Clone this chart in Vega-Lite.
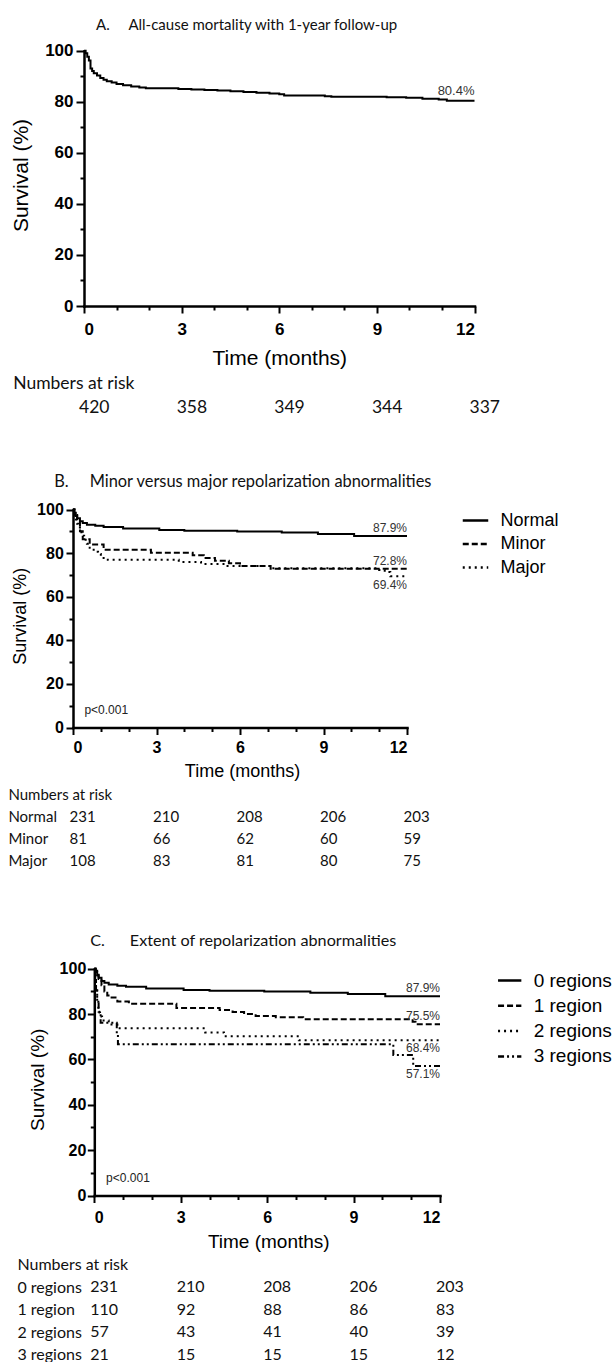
{
  "$schema": "https://vega.github.io/schema/vega-lite/v6.json",
  "padding": 0,
  "background": "white",
  "bounds": "flush",
  "spacing": 0,
  "resolve": {"scale": {"strokeDash": "independent"}, "legend": {"strokeDash": "independent"}},
  "config": {
    "view": {"stroke": null},
    "font": "Liberation Sans",
    "axis": {"grid": false, "labelColor": "#000", "tickColor": "#000", "domainColor": "#000", "titleColor": "#000", "labelFont": "Liberation Sans", "titleFont": "Liberation Sans", "titleFontWeight": "normal", "labelFontWeight": "bold", "domainCap": "square"},
    "legend": {"labelFont": "Liberation Sans", "labelColor": "#000"}
  },
  "datasets": {
    "curveA": [{"t":0,"s":100},{"t":0.05,"s":99},{"t":0.1,"s":97.6},{"t":0.15,"s":96.2},{"t":0.2,"s":93},{"t":0.25,"s":92},{"t":0.3,"s":91.2},{"t":0.4,"s":90.3},{"t":0.5,"s":89.3},{"t":0.6,"s":88.6},{"t":0.7,"s":88},{"t":0.85,"s":87.5},{"t":1,"s":87},{"t":1.2,"s":86.5},{"t":1.45,"s":86},{"t":1.7,"s":85.6},{"t":1.9,"s":85.3},{"t":2.9,"s":85},{"t":3.3,"s":84.8},{"t":3.7,"s":84.6},{"t":4.1,"s":84.4},{"t":4.5,"s":84.1},{"t":4.9,"s":83.8},{"t":5.3,"s":83.5},{"t":5.7,"s":83.2},{"t":6,"s":82.9},{"t":6.15,"s":82.5},{"t":7.4,"s":82.2},{"t":7.6,"s":82},{"t":9.3,"s":81.8},{"t":9.9,"s":81.6},{"t":10.4,"s":81.2},{"t":10.9,"s":80.9},{"t":11.15,"s":80.4},{"t":12,"s":80.4}],
    "endA": [{"t":12,"s":80.4,"label":"80.4%"}],
    "riskA": [{"row":"All","t":0,"n":420},{"row":"All","t":3,"n":358},{"row":"All","t":6,"n":349},{"row":"All","t":9,"n":344},{"row":"All","t":12,"n":337}],
    "curveB": [
      {"g":"Normal","t":0,"s":100},{"g":"Normal","t":0.05,"s":98.5},{"g":"Normal","t":0.1,"s":97},{"g":"Normal","t":0.15,"s":96},{"g":"Normal","t":0.25,"s":94.6},{"g":"Normal","t":0.35,"s":93.8},{"g":"Normal","t":0.5,"s":93},{"g":"Normal","t":0.8,"s":92.5},{"g":"Normal","t":1.1,"s":92},{"g":"Normal","t":1.8,"s":91.3},{"g":"Normal","t":3.1,"s":90.6},{"g":"Normal","t":4,"s":90.3},{"g":"Normal","t":5.9,"s":89.9},{"g":"Normal","t":7.5,"s":89.4},{"g":"Normal","t":8.8,"s":88.8},{"g":"Normal","t":10.1,"s":87.9},{"g":"Normal","t":12,"s":87.9},
      {"g":"Minor","t":0,"s":100},{"g":"Minor","t":0.05,"s":97.5},{"g":"Minor","t":0.15,"s":95},{"g":"Minor","t":0.25,"s":90},{"g":"Minor","t":0.35,"s":86.4},{"g":"Minor","t":0.6,"s":84},{"g":"Minor","t":1.1,"s":81.5},{"g":"Minor","t":2.8,"s":80.2},{"g":"Minor","t":4.3,"s":79},{"g":"Minor","t":4.7,"s":77.8},{"g":"Minor","t":5.1,"s":76.5},{"g":"Minor","t":5.6,"s":75.3},{"g":"Minor","t":6,"s":74.1},{"g":"Minor","t":7.1,"s":72.8},{"g":"Minor","t":12,"s":72.8},
      {"g":"Major","t":0,"s":100},{"g":"Major","t":0.05,"s":97.2},{"g":"Major","t":0.1,"s":95.4},{"g":"Major","t":0.15,"s":93.5},{"g":"Major","t":0.2,"s":91.7},{"g":"Major","t":0.25,"s":89.8},{"g":"Major","t":0.3,"s":88},{"g":"Major","t":0.4,"s":86.1},{"g":"Major","t":0.5,"s":84.3},{"g":"Major","t":0.6,"s":82.4},{"g":"Major","t":0.7,"s":81.5},{"g":"Major","t":0.8,"s":80.6},{"g":"Major","t":0.9,"s":79.6},{"g":"Major","t":1,"s":78.7},{"g":"Major","t":1.1,"s":77.8},{"g":"Major","t":1.25,"s":76.9},{"g":"Major","t":3.8,"s":75.9},{"g":"Major","t":4.6,"s":75},{"g":"Major","t":5.5,"s":74.1},{"g":"Major","t":7.1,"s":73.1},{"g":"Major","t":11,"s":72.2},{"g":"Major","t":11.2,"s":71.3},{"g":"Major","t":11.4,"s":69.4},{"g":"Major","t":12,"s":69.4}
    ],
    "endB": [{"t":12,"s":87.9,"label":"87.9%","pos":"above"},{"t":12,"s":72.8,"label":"72.8%","pos":"above"},{"t":12,"s":69.4,"label":"69.4%","pos":"below"}],
    "pval": [{"t":0.41,"s":7.8,"label":"p<0.001"}],
    "riskB": [
      {"row":"Normal","t":0,"n":231},{"row":"Normal","t":3,"n":210},{"row":"Normal","t":6,"n":208},{"row":"Normal","t":9,"n":206},{"row":"Normal","t":12,"n":203},
      {"row":"Minor","t":0,"n":81},{"row":"Minor","t":3,"n":66},{"row":"Minor","t":6,"n":62},{"row":"Minor","t":9,"n":60},{"row":"Minor","t":12,"n":59},
      {"row":"Major","t":0,"n":108},{"row":"Major","t":3,"n":83},{"row":"Major","t":6,"n":81},{"row":"Major","t":9,"n":80},{"row":"Major","t":12,"n":75}
    ],
    "curveC": [
      {"g":"0 regions","t":0,"s":100},{"g":"0 regions","t":0.05,"s":98.5},{"g":"0 regions","t":0.1,"s":97},{"g":"0 regions","t":0.15,"s":96},{"g":"0 regions","t":0.25,"s":94.6},{"g":"0 regions","t":0.35,"s":93.8},{"g":"0 regions","t":0.5,"s":93},{"g":"0 regions","t":0.8,"s":92.5},{"g":"0 regions","t":1.1,"s":92},{"g":"0 regions","t":1.8,"s":91.3},{"g":"0 regions","t":3.1,"s":90.6},{"g":"0 regions","t":4,"s":90.3},{"g":"0 regions","t":5.9,"s":89.9},{"g":"0 regions","t":7.5,"s":89.4},{"g":"0 regions","t":8.8,"s":88.8},{"g":"0 regions","t":10.1,"s":87.9},{"g":"0 regions","t":12,"s":87.9},
      {"g":"1 region","t":0,"s":100},{"g":"1 region","t":0.05,"s":99.1},{"g":"1 region","t":0.1,"s":97.3},{"g":"1 region","t":0.15,"s":95.5},{"g":"1 region","t":0.25,"s":92.7},{"g":"1 region","t":0.35,"s":90},{"g":"1 region","t":0.45,"s":88.2},{"g":"1 region","t":0.6,"s":87.3},{"g":"1 region","t":0.8,"s":85.5},{"g":"1 region","t":1.2,"s":84.5},{"g":"1 region","t":2.85,"s":82.7},{"g":"1 region","t":4.35,"s":81.8},{"g":"1 region","t":4.8,"s":80.9},{"g":"1 region","t":5.2,"s":80},{"g":"1 region","t":5.6,"s":79.1},{"g":"1 region","t":6.3,"s":78.6},{"g":"1 region","t":7.25,"s":77.7},{"g":"1 region","t":11.05,"s":76.6},{"g":"1 region","t":11.15,"s":75.5},{"g":"1 region","t":12,"s":75.5},
      {"g":"2 regions","t":0,"s":100},{"g":"2 regions","t":0.03,"s":96.5},{"g":"2 regions","t":0.06,"s":91.2},{"g":"2 regions","t":0.1,"s":86},{"g":"2 regions","t":0.14,"s":80.7},{"g":"2 regions","t":0.2,"s":78.9},{"g":"2 regions","t":0.27,"s":77.2},{"g":"2 regions","t":0.5,"s":75.4},{"g":"2 regions","t":0.8,"s":73.7},{"g":"2 regions","t":3.85,"s":71.9},{"g":"2 regions","t":4.5,"s":70.2},{"g":"2 regions","t":7.1,"s":68.4},{"g":"2 regions","t":12,"s":68.4},
      {"g":"3 regions","t":0,"s":100},{"g":"3 regions","t":0.03,"s":95.2},{"g":"3 regions","t":0.06,"s":90.5},{"g":"3 regions","t":0.1,"s":85.7},{"g":"3 regions","t":0.15,"s":81},{"g":"3 regions","t":0.22,"s":76.2},{"g":"3 regions","t":0.78,"s":71.4},{"g":"3 regions","t":0.82,"s":66.7},{"g":"3 regions","t":10.38,"s":61.9},{"g":"3 regions","t":11.07,"s":57.1},{"g":"3 regions","t":12,"s":57.1}
    ],
    "endC": [{"t":12,"s":87.9,"label":"87.9%","pos":"above"},{"t":12,"s":75.5,"label":"75.5%","pos":"above"},{"t":12,"s":68.4,"label":"68.4%","pos":"below"},{"t":12,"s":57.1,"label":"57.1%","pos":"below"}],
    "riskC": [
      {"row":"0 regions","t":0,"n":231},{"row":"0 regions","t":3,"n":210},{"row":"0 regions","t":6,"n":208},{"row":"0 regions","t":9,"n":206},{"row":"0 regions","t":12,"n":203},
      {"row":"1 region","t":0,"n":110},{"row":"1 region","t":3,"n":92},{"row":"1 region","t":6,"n":88},{"row":"1 region","t":9,"n":86},{"row":"1 region","t":12,"n":83},
      {"row":"2 regions","t":0,"n":57},{"row":"2 regions","t":3,"n":43},{"row":"2 regions","t":6,"n":41},{"row":"2 regions","t":9,"n":40},{"row":"2 regions","t":12,"n":39},
      {"row":"3 regions","t":0,"n":21},{"row":"3 regions","t":3,"n":15},{"row":"3 regions","t":6,"n":15},{"row":"3 regions","t":9,"n":15},{"row":"3 regions","t":12,"n":12}
    ]
  },
  "vconcat": [
    {
      "width": 616, "height": 306,
      "title": {"text": "A.\u00a0\u00a0\u00a0\u00a0\u00a0All-cause mortality with 1-year follow-up", "anchor": "start", "frame": "group", "orient": "top", "offset": -40.2, "dx": 96, "baseline": "middle", "font": "Lato", "fontSize": 15, "fontWeight": "normal", "color": "#111"},
      "layer": [
        {
          "data": {"name": "curveA"},
          "mark": {"type": "line", "interpolate": "step-after", "color": "#000", "strokeWidth": 2},
          "encoding": {
            "x": {"field": "t", "type": "quantitative", "scale": {"domain": [0,12], "range": [84,474.5], "nice": false, "zero": false},
                  "axis": {"orient": "bottom", "values": [0,3,6,9,12], "tickSize": 7, "tickWidth": 2, "domainWidth": 2.5, "labelPadding": 8.8, "labelFontSize": 17, "title": "Time (months)", "titleFontSize": 21, "titleX": 279.3, "titleY": 52, "titleBaseline": "middle"}},
            "y": {"field": "s", "type": "quantitative", "scale": {"domain": [0,100], "range": [306,50.7], "nice": false},
                  "axis": {"orient": "left", "offset": -84, "values": [0,20,40,60,80,100], "tickSize": 8, "tickWidth": 2, "domainWidth": 2.5, "labelPadding": 3, "labelFontSize": 17, "title": "Survival (%)", "titleFontSize": 21, "titleX": -63, "titleY": 175, "titleBaseline": "middle"}}
          }
        },
        {
          "data": {"name": "endA"},
          "mark": {"type": "text", "align": "right", "baseline": "middle", "dy": -10, "fontSize": 13, "color": "#333", "font": "Liberation Sans"},
          "encoding": {
            "x": {"field": "t", "type": "quantitative", "scale": {"domain": [0,12], "range": [84,474.5], "nice": false, "zero": false},
                  "axis": {"orient": "bottom", "values": [1,2,4,5,7,8,10,11], "tickSize": 4, "tickWidth": 2, "labels": false, "domain": false, "title": null}},
            "y": {"field": "s", "type": "quantitative", "scale": {"domain": [0,100], "range": [306,50.7], "nice": false},
                  "axis": {"orient": "left", "offset": -84, "values": [10,30,50,70,90], "tickSize": 4, "tickWidth": 2, "labels": false, "domain": false, "title": null}},
            "text": {"field": "label"}
          }
        }
      ],
      "resolve": {"axis": {"x": "independent", "y": "independent"}}
    },
    {
      "width": 616, "height": 154,
      "data": {"name": "riskA"},
      "mark": {"type": "text", "align": "left", "baseline": "middle", "dx": -5, "font": "Lato", "fontSize": 17.5, "color": "#111"},
      "encoding": {
        "x": {"field": "t", "type": "quantitative", "scale": {"domain": [0,12], "range": [84,474.5], "nice": false, "zero": false}, "axis": null},
        "y": {"field": "row", "type": "nominal", "scale": {"type": "point", "domain": ["Numbers at risk","All"], "range": [77.3,101.7], "padding": 0},
              "axis": {"orient": "left", "offset": -12.7, "labelAlign": "left", "labelBaseline": "middle", "labelPadding": 0, "ticks": false, "tickSize": 0, "domain": false, "title": null, "labelFont": "Lato", "labelFontSize": 17.5, "labelFontWeight": "normal", "labelColor": "#111", "labelExpr": "datum.value == 'All' ? '' : datum.value"}},
        "text": {"field": "n"}
      }
    },
    {
      "width": 616, "height": 267.5,
      "title": {"text": "B.\u00a0\u00a0\u00a0\u00a0\u00a0Minor versus major repolarization abnormalities", "anchor": "start", "frame": "group", "orient": "top", "offset": -38.4, "dx": 54.2, "baseline": "middle", "font": "Lato", "fontSize": 16.4, "fontWeight": "normal", "color": "#111"},
      "layer": [
        {
          "data": {"name": "curveB"},
          "mark": {"type": "line", "interpolate": "step-after", "color": "#000", "strokeWidth": 2},
          "encoding": {
            "x": {"field": "t", "type": "quantitative", "scale": {"domain": [0,12], "range": [73,407], "nice": false, "zero": false},
                  "axis": {"orient": "bottom", "values": [0,3,6,9,12], "tickSize": 7, "tickWidth": 2, "domainWidth": 2.5, "labelPadding": 5.2, "labelFontSize": 16, "title": "Time (months)", "titleFontSize": 18, "titleX": 242, "titleY": 44.2, "titleBaseline": "middle"}},
            "y": {"field": "s", "type": "quantitative", "scale": {"domain": [0,100], "range": [267.5,49.5], "nice": false},
                  "axis": {"orient": "left", "offset": -73, "values": [0,20,40,60,80,100], "tickSize": 7, "tickWidth": 2, "domainWidth": 2.5, "labelPadding": 2.7, "labelFontSize": 16, "title": "Survival (%)", "titleFontSize": 18, "titleX": -52.4, "titleY": 155.8, "titleBaseline": "middle"}},
            "strokeDash": {"field": "g", "type": "nominal", "scale": {"domain": ["Normal","Minor","Major"], "range": [[1,0],[6,3],[2,4]]},
                           "legend": {"orient": "none", "legendX": 461.5, "legendY": 46.5, "title": null, "padding": 0, "symbolType": "stroke", "symbolSize": 650, "symbolStrokeWidth": 2.5, "symbolStrokeColor": "#000", "labelFontSize": 18, "labelOffset": 11, "rowPadding": 0.5}}
          }
        },
        {
          "data": {"name": "endB"},
          "transform": [{"filter": "datum.pos == 'above'"}],
          "mark": {"type": "text", "align": "right", "baseline": "middle", "dy": -8, "fontSize": 12, "color": "#333", "font": "Liberation Sans"},
          "encoding": {
            "x": {"field": "t", "type": "quantitative", "scale": {"domain": [0,12], "range": [73,407], "nice": false, "zero": false},
                  "axis": {"orient": "bottom", "values": [1,2,4,5,7,8,10,11], "tickSize": 4, "tickWidth": 2, "labels": false, "domain": false, "title": null}},
            "y": {"field": "s", "type": "quantitative", "scale": {"domain": [0,100], "range": [267.5,49.5], "nice": false},
                  "axis": {"orient": "left", "offset": -73, "values": [10,30,50,70,90], "tickSize": 4, "tickWidth": 2, "labels": false, "domain": false, "title": null}},
            "text": {"field": "label"}
          }
        },
        {
          "data": {"name": "endB"},
          "transform": [{"filter": "datum.pos == 'below'"}],
          "mark": {"type": "text", "align": "right", "baseline": "middle", "dy": 9, "fontSize": 12, "color": "#333", "font": "Liberation Sans"},
          "encoding": {
            "x": {"field": "t", "type": "quantitative", "scale": {"domain": [0,12], "range": [73,407], "nice": false, "zero": false}, "axis": null},
            "y": {"field": "s", "type": "quantitative", "scale": {"domain": [0,100], "range": [267.5,49.5], "nice": false}, "axis": null},
            "text": {"field": "label"}
          }
        },
        {
          "data": {"name": "pval"},
          "mark": {"type": "text", "align": "left", "baseline": "middle", "fontSize": 12, "color": "#222", "font": "Liberation Sans"},
          "encoding": {
            "x": {"field": "t", "type": "quantitative", "scale": {"domain": [0,12], "range": [73,407], "nice": false, "zero": false}, "axis": null},
            "y": {"field": "s", "type": "quantitative", "scale": {"domain": [0,100], "range": [267.5,49.5], "nice": false}, "axis": null},
            "text": {"field": "label"}
          }
        }
      ],
      "resolve": {"axis": {"x": "independent", "y": "independent"}}
    },
    {
      "width": 616, "height": 192.5,
      "data": {"name": "riskB"},
      "mark": {"type": "text", "align": "left", "baseline": "middle", "dx": -3.5, "font": "Lato", "fontSize": 15, "color": "#111"},
      "encoding": {
        "x": {"field": "t", "type": "quantitative", "scale": {"domain": [0,12], "range": [73,407], "nice": false, "zero": false}, "axis": null},
        "y": {"field": "row", "type": "nominal", "scale": {"type": "point", "domain": ["Numbers at risk","Normal","Minor","Major"], "range": [66.5,132.5], "padding": 0},
              "axis": {"orient": "left", "offset": -7.9, "labelAlign": "left", "labelBaseline": "middle", "labelPadding": 0, "ticks": false, "tickSize": 0, "domain": false, "title": null, "labelFont": "Lato", "labelFontSize": 15, "labelFontWeight": "normal", "labelColor": "#111"}},
        "text": {"field": "n"}
      }
    },
    {
      "width": 616, "height": 274.5,
      "title": {"text": "C.\u00a0\u00a0\u00a0\u00a0\u00a0\u00a0Extent of repolarization abnormalities", "anchor": "start", "frame": "group", "orient": "top", "offset": -36.5, "dx": 90.3, "baseline": "middle", "font": "Lato", "fontSize": 16.2, "fontWeight": "normal", "color": "#111"},
      "layer": [
        {
          "data": {"name": "curveC"},
          "mark": {"type": "line", "interpolate": "step-after", "color": "#000", "strokeWidth": 2},
          "encoding": {
            "x": {"field": "t", "type": "quantitative", "scale": {"domain": [0,12], "range": [94.3,440], "nice": false, "zero": false},
                  "axis": {"orient": "bottom", "values": [0,3,6,9,12], "tickSize": 7, "tickWidth": 2, "domainWidth": 2.5, "labelPadding": 6.5, "labelFontSize": 16, "title": "Time (months)", "titleFontSize": 19, "titleX": 268.3, "titleY": 45.5, "titleBaseline": "middle"}},
            "y": {"field": "s", "type": "quantitative", "scale": {"domain": [0,100], "range": [274.5,47.7], "nice": false},
                  "axis": {"orient": "left", "offset": -94.3, "values": [0,20,40,60,80,100], "tickSize": 7, "tickWidth": 2, "domainWidth": 2.5, "labelPadding": 1.5, "labelFontSize": 16, "title": "Survival (%)", "titleFontSize": 19, "titleX": -57, "titleY": 158.3, "titleBaseline": "middle"}},
            "strokeDash": {"field": "g", "type": "nominal", "scale": {"domain": ["0 regions","1 region","2 regions","3 regions"], "range": [[1,0],[6,3],[2,4],[6,3,2,3,2,3]]},
                           "legend": {"orient": "none", "legendX": 496.7, "legendY": 46.5, "title": null, "padding": 0, "symbolType": "stroke", "symbolSize": 543, "symbolStrokeWidth": 2.5, "symbolStrokeColor": "#000", "labelFontSize": 19, "labelOffset": 11, "rowPadding": 2.3, "labelLimit": 300}}
          }
        },
        {
          "data": {"name": "endC"},
          "transform": [{"filter": "datum.pos == 'above'"}],
          "mark": {"type": "text", "align": "right", "baseline": "middle", "dy": -8, "fontSize": 12, "color": "#333", "font": "Liberation Sans"},
          "encoding": {
            "x": {"field": "t", "type": "quantitative", "scale": {"domain": [0,12], "range": [94.3,440], "nice": false, "zero": false},
                  "axis": {"orient": "bottom", "values": [1,2,4,5,7,8,10,11], "tickSize": 4, "tickWidth": 2, "labels": false, "domain": false, "title": null}},
            "y": {"field": "s", "type": "quantitative", "scale": {"domain": [0,100], "range": [274.5,47.7], "nice": false},
                  "axis": {"orient": "left", "offset": -94.3, "values": [10,30,50,70,90], "tickSize": 4, "tickWidth": 2, "labels": false, "domain": false, "title": null}},
            "text": {"field": "label"}
          }
        },
        {
          "data": {"name": "endC"},
          "transform": [{"filter": "datum.pos == 'below'"}],
          "mark": {"type": "text", "align": "right", "baseline": "middle", "dy": 8, "fontSize": 12, "color": "#333", "font": "Liberation Sans"},
          "encoding": {
            "x": {"field": "t", "type": "quantitative", "scale": {"domain": [0,12], "range": [94.3,440], "nice": false, "zero": false}, "axis": null},
            "y": {"field": "s", "type": "quantitative", "scale": {"domain": [0,100], "range": [274.5,47.7], "nice": false}, "axis": null},
            "text": {"field": "label"}
          }
        },
        {
          "data": {"name": "pval"},
          "mark": {"type": "text", "align": "left", "baseline": "middle", "fontSize": 12, "color": "#222", "font": "Liberation Sans"},
          "encoding": {
            "x": {"field": "t", "type": "quantitative", "scale": {"domain": [0,12], "range": [94.3,440], "nice": false, "zero": false}, "axis": null},
            "y": {"field": "s", "type": "quantitative", "scale": {"domain": [0,100], "range": [274.5,47.7], "nice": false}, "axis": null},
            "text": {"field": "label"}
          }
        }
      ],
      "resolve": {"axis": {"x": "independent", "y": "independent"}}
    },
    {
      "width": 616, "height": 167.5,
      "data": {"name": "riskC"},
      "mark": {"type": "text", "align": "left", "baseline": "middle", "dx": -4, "font": "Lato", "fontSize": 16, "color": "#111"},
      "encoding": {
        "x": {"field": "t", "type": "quantitative", "scale": {"domain": [0,12], "range": [94.3,440], "nice": false, "zero": false}, "axis": null},
        "y": {"field": "row", "type": "nominal", "scale": {"type": "point", "domain": ["Numbers at risk","0 regions","1 region","2 regions","3 regions"], "range": [68.8,158.8], "padding": 0},
              "axis": {"orient": "left", "offset": -16.9, "labelAlign": "left", "labelBaseline": "middle", "labelPadding": 0, "ticks": false, "tickSize": 0, "domain": false, "title": null, "labelFont": "Lato", "labelFontSize": 16, "labelFontWeight": "normal", "labelColor": "#111"}},
        "text": {"field": "n"}
      }
    }
  ]
}
